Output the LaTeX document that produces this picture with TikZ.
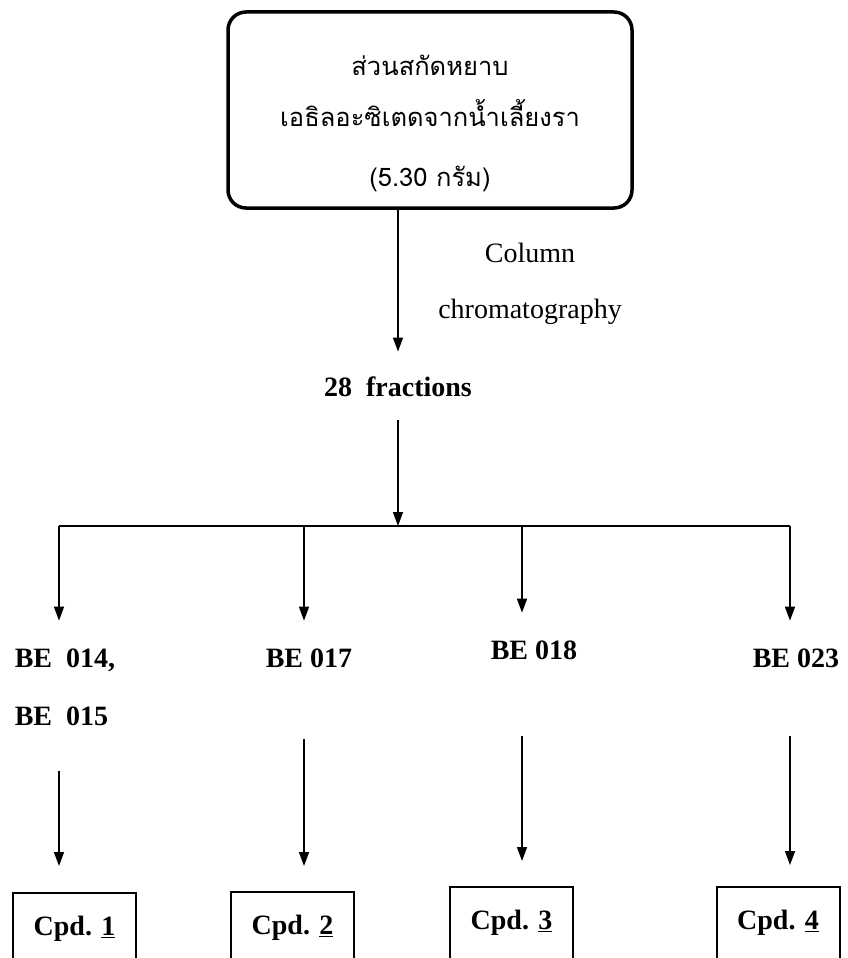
\documentclass[tikz,border=0pt]{standalone}
\usepackage{fontspec}
\setmainfont{Liberation Serif}
\newfontfamily\thaifont[Script=Thai]{Loma}
\usetikzlibrary{arrows.meta,positioning,calc}

\begin{document}
\begin{tikzpicture}[x=1pt,y=-1pt,>={Triangle[length=14pt,width=10pt]},line width=1.5pt,
  font=\fontsize{28}{32}\selectfont,
  lbl/.style={inner sep=0pt,anchor=base},
  thai/.style={lbl,font=\thaifont\fontsize{25.5}{30}\selectfont},
  bel/.style={inner sep=0pt,anchor=base west,font=\fontsize{28}{32}\selectfont\bfseries},
  cpdbox/.style={draw,line width=2pt,minimum width=123pt,minimum height=72pt,inner sep=0pt,font=\fontsize{28}{32}\selectfont\bfseries}]
\clip (0,0) rectangle (847,958);
% crude extract
\node[draw,line width=3.5pt,rounded corners=18pt,minimum width=404pt,minimum height=196pt] (crude) at (430,110) {};
\node[thai] (t1) at (430,75) {ส่วนสกัดหยาบ};
\node[thai] (t2) at (430,126) {เอธิลอะซิเตดจากน้ำเลี้ยงรา};
\node[thai] (t3) at (430,186) {(5.30 กรัม)};
\node[lbl] (col) at (530,262) {Column};
\node[lbl] (chrom) at (530,318) {chromatography};
\node[lbl,font=\fontsize{28}{32}\selectfont\bfseries] (frac) at (398,396) {28\ \ fractions};
\draw[->,shorten >=24pt] (crude.south -| frac) -- (frac.north);
% fractions
\node[bel] (be1) at (14,667) {BE\ \ 014,};
\node[bel] (be1b) at (14,725) {BE\ \ 015};
\node[bel] (be2) at (265,667) {BE 017};
\node[bel] (be3) at (490,659) {BE 018};
\node[bel] (be4) at (752,667) {BE 023};
\foreach \i/\x/\cx/\cy in {1/59/74.5/929,2/304/292.5/928,3/522/511.5/923,4/790/778/923}
 { \coordinate (b\i) at (\x,526); \node[cpdbox] (cpd\i) at (\cx,\cy) {Cpd. \underline{\i}}; }
\draw (b1) -- (b4);
\draw[->,shorten <=23pt] (frac.south) -- (frac |- b1);
\foreach \i in {1,...,4} \draw[->,shorten >=27pt] (b\i) -- (b\i |- be\i.north);
% compounds
\draw[->,shorten <=45pt,shorten >=26pt] (b1 |- be1b.south) -- (b1 |- cpd1.north);
\draw[->,shorten <=71pt,shorten >=25pt] (b2 |- be2.south) -- (b2 |- cpd2.north);
\draw[->,shorten <=76pt,shorten >=25pt] (b3 |- be3.south) -- (b3 |- cpd3.north);
\draw[->,shorten <=68pt,shorten >=21pt] (b4 |- be4.south) -- (b4 |- cpd4.north);
\end{tikzpicture}
\end{document}
